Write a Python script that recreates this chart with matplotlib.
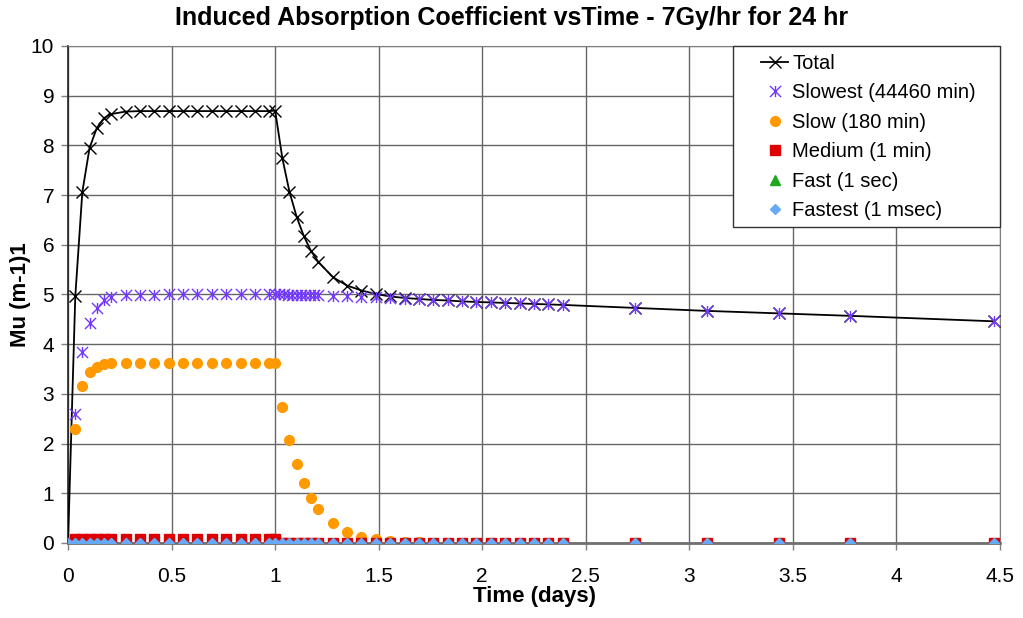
import numpy as np
import matplotlib.pyplot as plt
from matplotlib.path import Path
from matplotlib.patches import Rectangle

plt.rcParams['font.family'] = ['Liberation Sans', 'DejaVu Sans']

# time grid (days) shared by Total / Slow / Medium / Fast / Fastest
t_main = [0, 0.035, 0.069, 0.104, 0.139, 0.174, 0.208, 0.278, 0.347, 0.417,
          0.486, 0.556, 0.625, 0.694, 0.764, 0.833, 0.903, 0.972, 1.0,
          1.035, 1.069, 1.104, 1.139, 1.174, 1.208, 1.278, 1.347, 1.417,
          1.486, 1.556, 1.625, 1.694, 1.764, 1.833, 1.903, 1.972, 2.042,
          2.111, 2.181, 2.25, 2.319, 2.389, 2.736, 3.083, 3.431, 3.778, 4.472]

total = [0, 4.96, 7.06, 7.95, 8.35, 8.55, 8.63, 8.68, 8.69, 8.69, 8.69,
         8.69, 8.69, 8.69, 8.69, 8.69, 8.69, 8.69, 8.70, 7.74, 7.07, 6.56,
         6.17, 5.87, 5.66, 5.35, 5.18, 5.08, 5.01, 4.96, 4.93, 4.91, 4.89,
         4.88, 4.86, 4.85, 4.84, 4.83, 4.82, 4.81, 4.80, 4.79, 4.73, 4.67,
         4.62, 4.57, 4.46]

slow = [0, 2.30, 3.15, 3.45, 3.55, 3.60, 3.62, 3.62, 3.62, 3.62, 3.62,
        3.62, 3.62, 3.62, 3.62, 3.62, 3.62, 3.62, 3.62, 2.74, 2.08, 1.58,
        1.20, 0.91, 0.69, 0.40, 0.23, 0.13, 0.08, 0.045, 0.026, 0.015,
        0.009, 0.005, 0.003, 0.002, 0.001, 0, 0, 0, 0, 0, 0, 0, 0, 0, 0]

medium = [0] + [0.08] * 18 + [0] * 28
fast = [0] * 47
fastest = [0] * 47

# the slowest component has a finer grid just after irradiation stops
t_slowest = [0, 0.035, 0.069, 0.104, 0.139, 0.174, 0.208, 0.278, 0.347,
             0.417, 0.486, 0.556, 0.625, 0.694, 0.764, 0.833, 0.903, 0.972,
             1.0, 1.021, 1.042, 1.063, 1.083, 1.104, 1.125, 1.146, 1.167,
             1.188, 1.208, 1.278, 1.347, 1.417, 1.486, 1.556, 1.625, 1.694,
             1.764, 1.833, 1.903, 1.972, 2.042, 2.111, 2.181, 2.25, 2.319,
             2.389, 2.736, 3.083, 3.431, 3.778, 4.472]
slowest = [0, 2.60, 3.84, 4.43, 4.73, 4.88, 4.94, 4.98, 4.99, 4.99, 5.0,
           5.0, 5.0, 5.0, 5.0, 5.0, 5.0, 5.0, 5.0, 5.0, 5.0, 4.99, 4.99,
           4.99, 4.99, 4.99, 4.98, 4.98, 4.98, 4.97, 4.96, 4.95, 4.94,
           4.92, 4.91, 4.90, 4.89, 4.88, 4.86, 4.85, 4.84, 4.83, 4.82,
           4.81, 4.80, 4.79, 4.73, 4.67, 4.62, 4.57, 4.46]

xticks = [0, 0.5, 1, 1.5, 2, 2.5, 3, 3.5, 4, 4.5]
xlabels = ['0', '0.5', '1', '1.5', '2', '2.5', '3', '3.5', '4', '4.5']
yticks = list(range(0, 11))

# excel style star: an x with a vertical bar through it
star = Path([(-1, -1), (1, 1), (-1, 1), (1, -1), (0, -1), (0, 1)],
            [Path.MOVETO, Path.LINETO, Path.MOVETO, Path.LINETO,
             Path.MOVETO, Path.LINETO])

fig = plt.figure(figsize=(10.23, 6.18), dpi=100)
ax = fig.add_axes([0.0665, 0.1214, 0.911, 0.8042])

ax.plot(t_main, total, color='black', lw=1.3, marker='x', ms=8, mew=1.0,
        label='Total', zorder=3)
ax.plot(t_slowest, slowest, ls='none', marker=star, ms=8, mew=1.0,
        color='#7338FF', label='Slowest (44460 min)', zorder=4)
ax.plot(t_main, slow, ls='none', marker='o', ms=7, color='#FF9900',
        label='Slow (180 min)', zorder=5)
ax.plot(t_main, medium, ls='none', marker='s', ms=6.5, color='#DD0000',
        label='Medium (1 min)', zorder=6)
ax.plot(t_main, fast, ls='none', marker='^', ms=6.5, color='#1FA81F',
        label='Fast (1 sec)', zorder=7)
ax.plot(t_main, fastest, ls='none', marker='D', ms=5.5, color='#66AAF5',
        label='Fastest (1 msec)', zorder=8)

ax.set_xlim(0, 4.5)
ax.set_ylim(0, 10)
ax.set_xticks(xticks)
ax.set_xticklabels(xlabels)
ax.set_yticks(yticks)
ax.grid(True, color='#666666', lw=1.0)
ax.set_axisbelow(True)
ax.tick_params(direction='out', length=5, width=1, color='#808080',
               labelsize=15)
ax.tick_params(axis='x', pad=12)
ax.tick_params(axis='y', pad=5)

for s in ['top', 'right']:
    ax.spines[s].set_color('#808080')
ax.spines['left'].set_color('#222222')
ax.spines['left'].set_linewidth(1.2)
ax.spines['bottom'].set_color('#707070')
ax.spines['bottom'].set_linewidth(2)
ax.spines['bottom'].set_zorder(2.5)

ax.set_xlabel('Time (days)', fontsize=16, fontweight='bold', labelpad=0)
ax.set_ylabel('Mu (m-1)1', fontsize=16, fontweight='bold', labelpad=0)
fig.suptitle('Induced Absorption Coefficient vsTime - 7Gy/hr for 24 hr',
             fontsize=18, fontweight='bold', y=0.99)

leg = ax.legend(loc='upper left', bbox_to_anchor=(0.737, 0.996),
                frameon=False, fontsize=14.5, handlelength=1.35,
                handletextpad=0.2, labelspacing=0.52, borderpad=0.3,
                borderaxespad=0)
leg.set_zorder(10)

# white box with a thin border behind the legend, flush with the top right
fig.canvas.draw()
bb = leg.get_window_extent().transformed(ax.transAxes.inverted())
x0 = bb.x0 - 0.024
y0 = bb.y0 - 0.002
ax.add_patch(Rectangle((x0, y0), 1.0 - x0, 1.0 - y0, transform=ax.transAxes,
                       facecolor='white', edgecolor='#333333', lw=1.0,
                       zorder=9, clip_on=False))

fig.savefig('out.png', dpi=100)
